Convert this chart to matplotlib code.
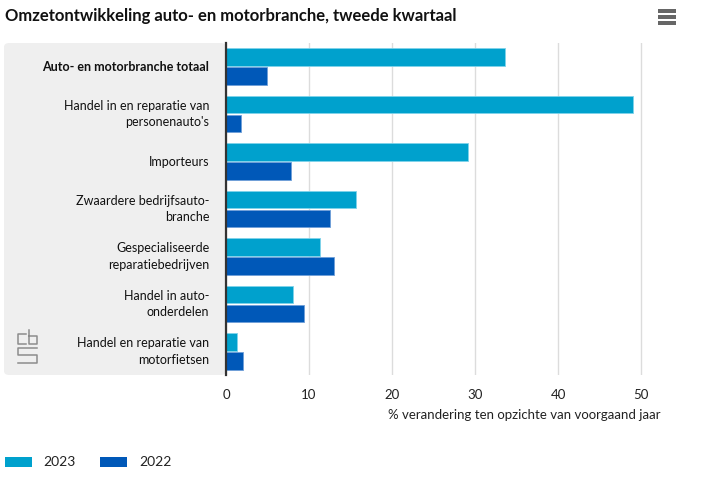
import matplotlib.pyplot as plt
from matplotlib.patches import FancyBboxPatch, Rectangle
import numpy as np

categories = ["Auto- en motorbranche totaal",
              "Handel in en reparatie van\npersonenauto's",
              "Importeurs",
              "Zwaardere bedrijfsauto-\nbranche",
              "Gespecialiseerde\nreparatiebedrijven",
              "Handel in auto-\nonderdelen",
              "Handel en reparatie van\nmotorfietsen"]
values_2023 = [33.6, 49.0, 29.1, 15.7, 11.3, 8.1, 1.3]
values_2022 = [4.9, 1.8, 7.8, 12.5, 13.0, 9.4, 2.0]
xticks = [0, 10, 20, 30, 40, 50]

c2023 = '#00a1cd'
c2022 = '#0058b8'
W, H = 702, 488

plt.rcParams['font.family'] = ['Lato', 'DejaVu Sans']
fig = plt.figure(figsize=(W / 100, H / 100), dpi=100)

# grey label panel behind category names
panel = FancyBboxPatch((4 / W, 1 - 375 / H), 222 / W, 332 / H,
                       boxstyle="round,pad=0,rounding_size=0.008",
                       transform=fig.transFigure, facecolor='#efefef',
                       edgecolor='none', zorder=-1)
fig.patches.append(panel)

ax = fig.add_axes([226 / W, 1 - 375 / H, 435 / W, 332 / H])
ax.patch.set_alpha(0)
y = np.arange(len(categories))
h = 0.37
ax.barh(y - 0.2, values_2023, height=h, color=c2023, edgecolor='#7fd3ea', linewidth=0.6, zorder=3)
ax.barh(y + 0.2, values_2022, height=h, color=c2022, edgecolor='#6f9fd8', linewidth=0.6, zorder=3)
ax.set_ylim(len(categories) - 0.5, -0.5)
ax.set_xlim(0, 52.4)
ax.set_xticks(xticks)
ax.set_xticklabels([str(t) for t in xticks], fontsize=9.5, color='#222222')
ax.tick_params(axis='x', length=0, pad=10)
ax.set_yticks([])
ax.grid(axis='x', color='#dcdcdc', linewidth=1, zorder=0)
for s in ['top', 'right', 'bottom']:
    ax.spines[s].set_visible(False)
ax.spines['left'].set_color('#333333')
ax.spines['left'].set_linewidth(1.6)
ax.spines['left'].set_zorder(4)

for i, lab in enumerate(categories):
    ax.text(-2.0, i, lab, ha='right', va='center', fontsize=9, color='#111111',
            fontweight='bold' if i == 0 else 'normal', linespacing=1.45)

ax.set_xlabel('% verandering ten opzichte van voorgaand jaar', fontsize=9.5,
              color='#222222', loc='right', labelpad=6)

fig.text(5 / W, 1 - 16 / H, 'Omzetontwikkeling auto- en motorbranche, tweede kwartaal',
         fontsize=12, fontweight='bold', color='#111111', va='center', ha='left')

# menu icon
for yy in [11, 17, 23]:
    fig.patches.append(Rectangle((658 / W, 1 - (yy + 1.5) / H), 18 / W, 3 / H,
                                 transform=fig.transFigure, facecolor='#666666', edgecolor='none'))

# cbs logo (simplified)
logo_paths = [
    ([26, 18, 18, 26], [334, 334, 344, 344]),
    ([29, 29, 37, 37, 29], [330, 344, 344, 336, 336]),
    ([37, 18, 18, 37, 37, 18], [348, 348, 355, 355, 363, 363]),
]
for lx, ly in logo_paths:
    fig.add_artist(plt.Line2D(np.array(lx) / W, 1 - np.array(ly) / H, color='#8c8c8c',
                              linewidth=1.1, transform=fig.transFigure))

# legend
fig.patches.append(Rectangle((5 / W, 1 - 467 / H), 27 / W, 10 / H, transform=fig.transFigure,
                             facecolor=c2023, edgecolor='none'))
fig.text(43 / W, 1 - 462 / H, '2023', fontsize=10, va='center', color='#222222')
fig.patches.append(Rectangle((100 / W, 1 - 467 / H), 27 / W, 10 / H, transform=fig.transFigure,
                             facecolor=c2022, edgecolor='none'))
fig.text(139 / W, 1 - 462 / H, '2022', fontsize=10, va='center', color='#222222')

fig.savefig('out.png', dpi=100, facecolor='white')
